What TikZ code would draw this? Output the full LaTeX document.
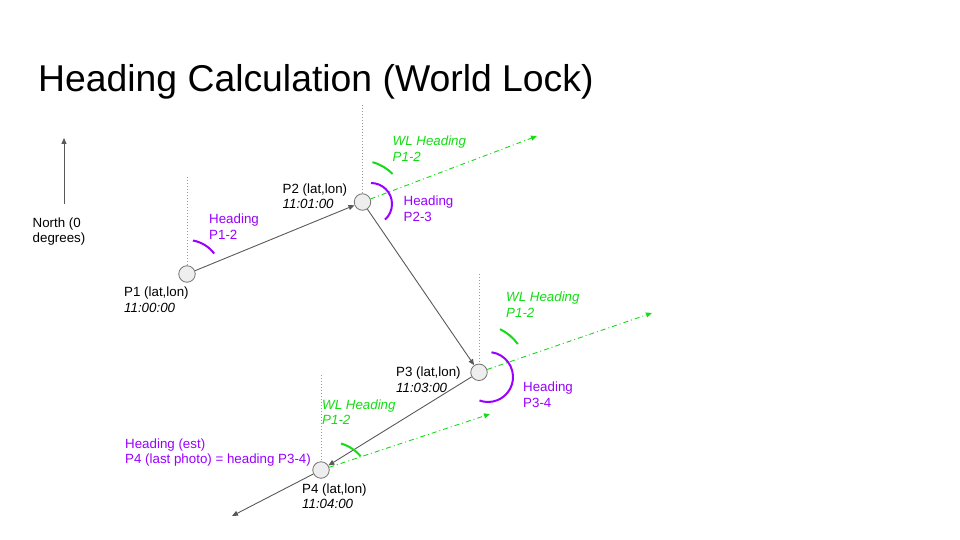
\documentclass[tikz,border=0pt]{standalone}
\usepackage{fontspec}
\setmainfont{Liberation Sans}
\usetikzlibrary{arrows.meta}
\definecolor{lgray}{HTML}{595959}
\definecolor{dgray}{HTML}{9A9A9A}
\definecolor{hpurple}{HTML}{9900FF}
\definecolor{hgreen}{RGB}{20,220,20}
\definecolor{cfill}{HTML}{EEEEEE}
\begin{document}
\begin{tikzpicture}[x=1pt,y=-1pt,
  ptnode/.style={circle,draw=lgray!85,fill=cfill,line width=0.8pt,minimum size=16.5pt,inner sep=0pt},
  lbl/.style={anchor=north west,inner sep=0pt,align=left,font=\fontsize{13.33}{15.7}\selectfont},
  trackarrow/.style={draw=lgray,line width=0.9pt,-{Triangle[length=6pt,width=5pt]}},
  wlarrow/.style={draw=hgreen,line width=0.9pt,dash pattern=on 5pt off 3pt on 1pt off 3pt,-{Triangle[length=6pt,width=5pt]}},
  vline/.style={draw=dgray,line width=0.8pt,dash pattern=on 1pt off 2pt},
  parc/.style={draw=hpurple,line width=2pt},
  garc/.style={draw=hgreen,line width=2pt}]
\useasboundingbox (0,0) rectangle (960,540);

% title
\node[anchor=base west,inner sep=0pt,font=\fontsize{37.33}{44}\selectfont] (title) at (38,91.7) {Heading Calculation (World Lock)};

% north arrow
\coordinate (N0) at (64,204);
\coordinate (N1) at (64,138);
\draw[trackarrow] (N0) -- (N1);
\node[lbl] (northlbl) at (32.5,217.3) {North (0\\degrees)};

% points
\node[ptnode] (P1) at (187,274) {};
\node[ptnode] (P2) at (362.5,202) {};
\node[ptnode] (P3) at (479,372.3) {};
\node[ptnode] (P4) at (321,470) {};

% vertical reference lines
\coordinate (V1) at (187,177);
\coordinate (V2) at (362.5,105);
\coordinate (V3) at (479,274);
\coordinate (V4) at (321,375);
\draw[vline] (V1) -- (P1.north);
\draw[vline] (V2) -- (P2.north);
\draw[vline] (V3) -- (P3.north);
\draw[vline] (V4) -- (P4.north);

% track
\coordinate (E4) at (232,516);
\draw[trackarrow] (P1) -- (P2);
\draw[trackarrow] (P2) -- (P3);
\draw[trackarrow] (P3) -- (P4);
\draw[trackarrow] (P4) -- (E4);

% world lock heading
\coordinate (G2) at (537,136);
\coordinate (G3) at (652,313);
\coordinate (G4) at (490,414);
\draw[wlarrow] (P2) -- (G2);
\draw[wlarrow] (P3) -- (G3);
\draw[wlarrow] (P4) -- (G4);

% arcs
\draw[parc] (P1) ++(-80:34) arc[start angle=-80,end angle=-37,radius=34];
\draw[garc] (P2) ++(-76:41) arc[start angle=-76,end angle=-43,radius=41];
\coordinate (C2) at (371,204);
\draw[parc] (C2) ++(-90:21) arc[start angle=-90,end angle=48,radius=21];
\draw[garc] (P3) ++(-64:48) arc[start angle=-64,end angle=-36,radius=48];
\coordinate (C3) at (488,377);
\draw[parc] (C3) ++(-82:25) arc[start angle=-82,end angle=110,radius=25];
\coordinate (C4) at (330,482);
\draw[garc] (C4) ++(-74:40) arc[start angle=-74,end angle=-40,radius=40];

% labels
\node[lbl,text=hpurple] (h12) at (209,213.5) {Heading\\P1-2};
\node[lbl] (p1lbl) at (124,286.7) {P1 (lat,lon)\\\textit{11:00:00}};
\node[lbl] (p2lbl) at (282.5,183.3) {P2 (lat,lon)\\\textit{11:01:00}};
\node[lbl,text=hgreen,font=\fontsize{13.33}{15.7}\selectfont\itshape] (wl2) at (392.5,136) {WL Heading\\P1-2};
\node[lbl,text=hpurple] (h23) at (403.5,196) {Heading\\P2-3};
\node[lbl,text=hgreen,font=\fontsize{13.33}{15.7}\selectfont\itshape] (wl3) at (506,291.7) {WL Heading\\P1-2};
\node[lbl] (p3lbl) at (396,366.7) {P3 (lat,lon)\\\textit{11:03:00}};
\node[lbl,text=hpurple] (h34) at (523,381.7) {Heading\\P3-4};
\node[lbl,text=hgreen,font=\fontsize{13.33}{15.7}\selectfont\itshape] (wl4) at (322,399.3) {WL Heading\\P1-2};
\node[lbl,text=hpurple] (hest) at (125,438.3) {Heading (est)\\P4 (last photo) = heading P3-4)};
\node[lbl] (p4lbl) at (302,483.3) {P4 (lat,lon)\\\textit{11:04:00}};
\end{tikzpicture}
\end{document}
